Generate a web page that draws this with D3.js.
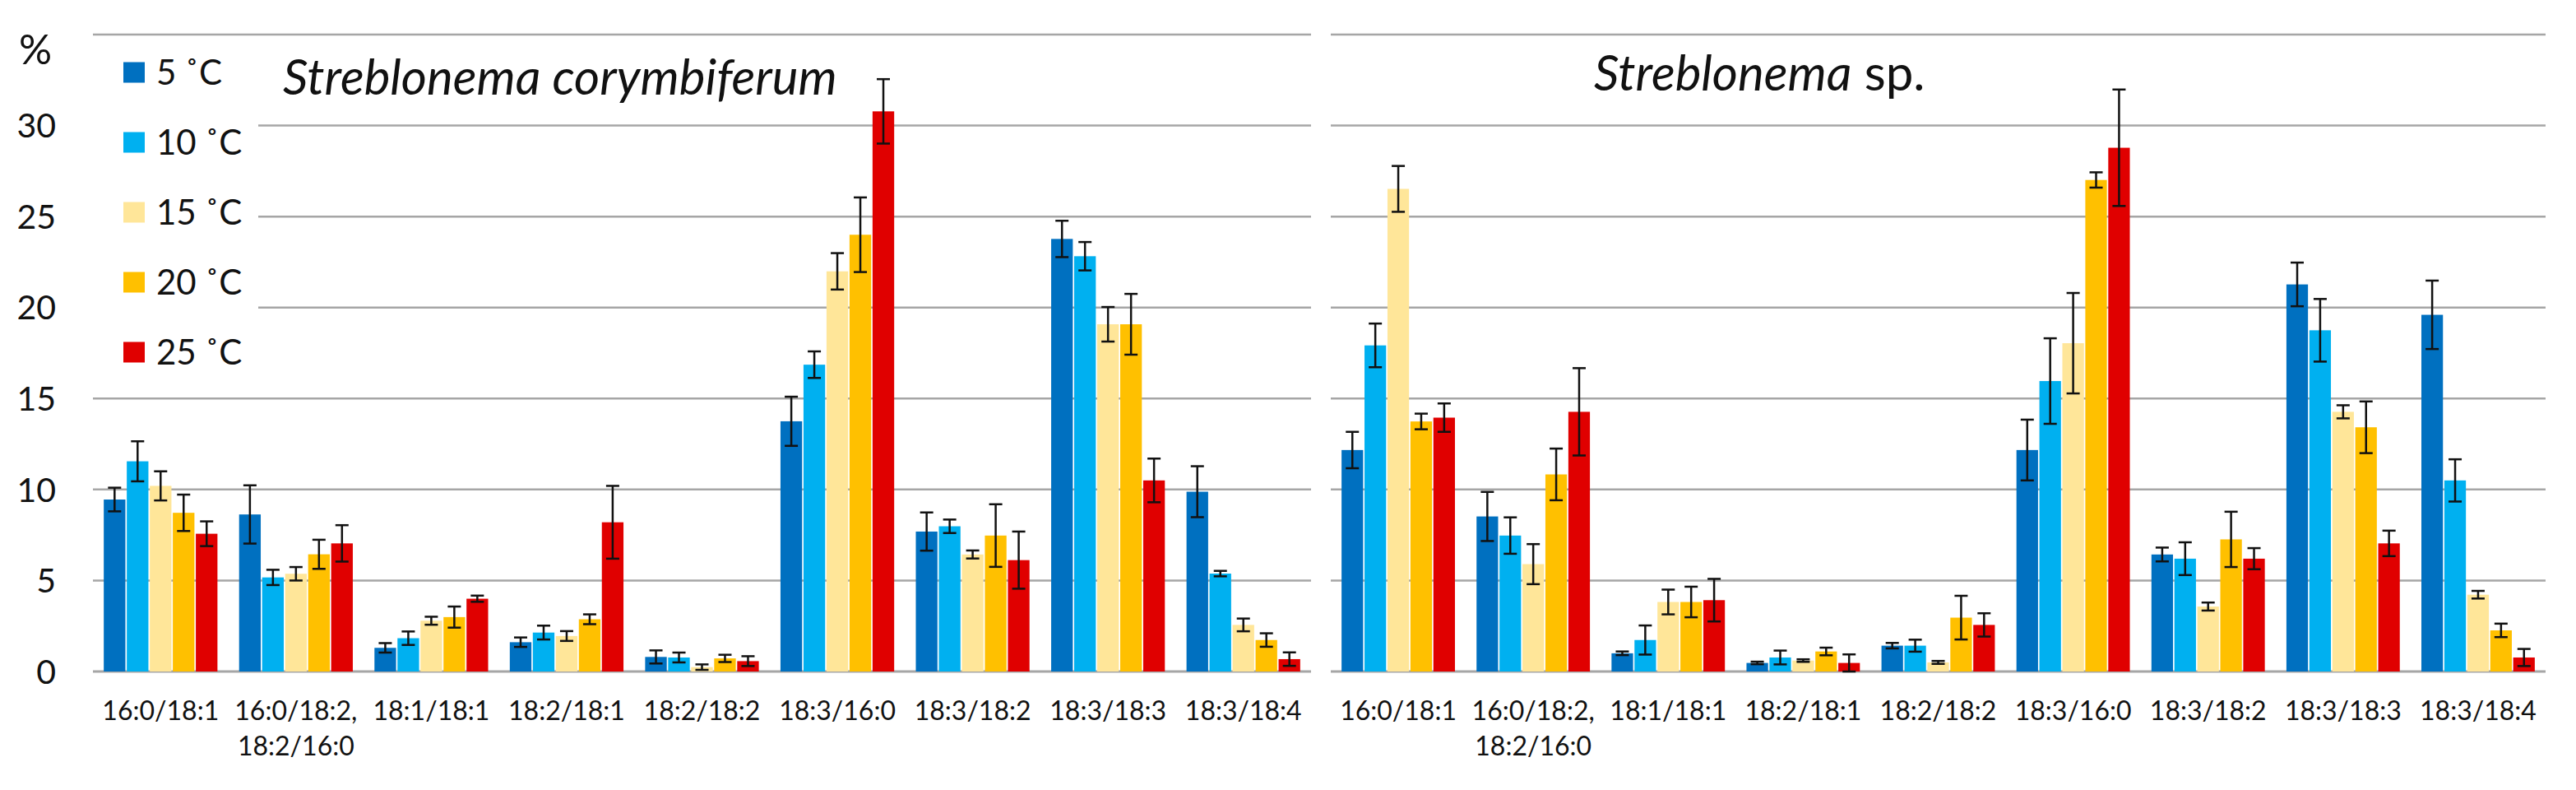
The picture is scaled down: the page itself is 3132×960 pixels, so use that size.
<!DOCTYPE html>
<html>
<head>
<meta charset="utf-8">
<script src="https://cdn.jsdelivr.net/npm/d3@7"></script>
<style>
  body { margin: 0; background: #fff; }
  text { font-family: Lato, "Open Sans", sans-serif; fill: #111; }
</style>
</head>
<body>
<div id="chart"></div>
<script>
const categories = ["16:0/18:1", "16:0/18:2,|18:2/16:0", "18:1/18:1", "18:2/18:1", "18:2/18:2",
    "18:3/16:0", "18:3/18:2", "18:3/18:3", "18:3/18:4"]
const temperatures = ["5 ˚C", "10 ˚C", "15 ˚C", "20 ˚C", "25 ˚C"]
const barColors = ["#0070C0", "#00B0F0", "#FFE699", "#FFC000", "#E00000"]
const yTicks = [0, 5, 10, 15, 20, 25, 30, 35]

// Streblonema corymbiferum, mean % per temperature
const corym5 = [9.45, 8.63, 1.3, 1.61, 0.8, 13.75, 7.69, 23.77, 9.88]
const corym10 = [11.55, 5.17, 1.83, 2.14, 0.77, 16.86, 7.98, 22.82, 5.38]
const corym15 = [10.2, 5.37, 2.79, 1.95, 0.24, 21.99, 6.43, 19.08, 2.56]
const corym20 = [8.72, 6.44, 2.99, 2.87, 0.72, 24.0, 7.47, 19.08, 1.73]
const corym25 = [7.57, 7.04, 4.0, 8.2, 0.57, 30.78, 6.12, 10.5, 0.68]
// error bars
const corymErr5 = [0.65, 1.6, 0.26, 0.26, 0.36, 1.35, 1.05, 1.0, 1.4]
const corymErr10 = [1.1, 0.42, 0.37, 0.38, 0.27, 0.73, 0.37, 0.78, 0.15]
const corymErr15 = [0.8, 0.37, 0.22, 0.27, 0.15, 1.0, 0.22, 0.95, 0.35]
const corymErr20 = [1.0, 0.8, 0.58, 0.27, 0.2, 2.05, 1.72, 1.67, 0.37]
const corymErr25 = [0.68, 1.0, 0.17, 2.0, 0.27, 1.77, 1.57, 1.2, 0.37]

// Streblonema sp.
const sp5 = [12.17, 8.52, 1.0, 0.47, 1.42, 12.17, 6.43, 21.27, 19.6]
const sp10 = [17.92, 7.47, 1.73, 0.77, 1.42, 15.96, 6.2, 18.75, 10.5]
const sp15 = [26.52, 5.9, 3.82, 0.6, 0.5, 18.04, 3.57, 14.27, 4.22]
const sp20 = [13.74, 10.83, 3.82, 1.1, 2.96, 27.01, 7.26, 13.42, 2.26]
const sp25 = [13.95, 14.27, 3.92, 0.47, 2.56, 28.78, 6.2, 7.04, 0.77]
const spErr5 = [1.0, 1.35, 0.1, 0.07, 0.15, 1.67, 0.38, 1.2, 1.88]
const spErr10 = [1.2, 1.0, 0.8, 0.38, 0.33, 2.35, 0.9, 1.72, 1.16]
const spErr15 = [1.26, 1.1, 0.68, 0.07, 0.08, 2.76, 0.22, 0.36, 0.21]
const spErr20 = [0.43, 1.42, 0.84, 0.21, 1.2, 0.42, 1.52, 1.42, 0.37]
const spErr25 = [0.78, 2.4, 1.17, 0.47, 0.64, 3.2, 0.58, 0.7, 0.47]

const width = 3132
const height = 960

const svg = d3.select("#chart")
    .append("svg")
    .attr("width", width)
    .attr("height", height)

const yScale = d3.scaleLinear()
    .domain([0, 35])
    .range([816, 42])

const panels = [
    { left: 113, right: 1594, series: [corym5, corym10, corym15, corym20, corym25],
      errors: [corymErr5, corymErr10, corymErr15, corymErr20, corymErr25] },
    { left: 1618, right: 3095, series: [sp5, sp10, sp15, sp20, sp25],
      errors: [spErr5, spErr10, spErr15, spErr20, spErr25] }
]

panels.forEach(panel => {
    const g = svg.append("g")

    const x0 = d3.scaleBand()
        .domain(categories)
        .range([panel.left, panel.right])
        .paddingInner(0.16)
        .paddingOuter(0.08)

    const x1 = d3.scaleBand()
        .domain(d3.range(temperatures.length))
        .range([0, x0.bandwidth()])
        .paddingInner(0.06)

    // gridlines
    g.append("g")
        .selectAll("line")
        .data(yTicks)
        .enter().append("line")
        .attr("x1", panel.left)
        .attr("x2", panel.right)
        .attr("y1", d => yScale(d))
        .attr("y2", d => yScale(d))
        .attr("stroke", "#a6a6a6")
        .attr("stroke-width", d => d === 0 ? 3 : 2.5)

    const rows = []
    categories.forEach((c, i) => {
        panel.series.forEach((s, k) => {
            rows.push({ cat: c, k: k, value: s[i], err: panel.errors[k][i] })
        })
    })

    g.append("g")
        .selectAll("rect")
        .data(rows)
        .enter().append("rect")
        .attr("x", d => x0(d.cat) + x1(d.k))
        .attr("y", d => yScale(d.value))
        .attr("width", x1.bandwidth())
        .attr("height", d => yScale(0) - yScale(d.value))
        .attr("fill", d => barColors[d.k])

    // error bars
    const eb = g.append("g")
        .attr("stroke", "#111")
        .attr("stroke-width", 2.5)
        .selectAll("g")
        .data(rows)
        .enter().append("g")
        .attr("transform", d => `translate(${x0(d.cat) + x1(d.k) + x1.bandwidth() / 2},0)`)

    eb.append("line")
        .attr("y1", d => yScale(d.value + d.err))
        .attr("y2", d => yScale(Math.max(0, d.value - d.err)))
    eb.append("line")
        .attr("x1", -8).attr("x2", 8)
        .attr("y1", d => yScale(d.value + d.err))
        .attr("y2", d => yScale(d.value + d.err))
    eb.append("line")
        .attr("x1", -8).attr("x2", 8)
        .attr("y1", d => yScale(Math.max(0, d.value - d.err)))
        .attr("y2", d => yScale(Math.max(0, d.value - d.err)))

    // category labels, some on two lines
    const labels = g.append("g")
        .selectAll("text")
        .data(categories)
        .enter().append("text")
        .attr("text-anchor", "middle")
        .style("font-size", "32px")
        .attr("transform", d => `translate(${x0(d) + x0.bandwidth() / 2},875)`)

    labels.selectAll("tspan")
        .data(d => d.split("|"))
        .enter().append("tspan")
        .attr("x", 0)
        .attr("y", (d, i) => i * 43)
        .text(d => d)
})

// y axis labels (left panel only)
svg.append("g")
    .selectAll("text")
    .data(yTicks.filter(d => d < 35))
    .enter().append("text")
    .attr("x", 68)
    .attr("y", d => yScale(d))
    .attr("dy", "0.36em")
    .attr("text-anchor", "end")
    .style("font-size", "41px")
    .text(d => d)

svg.append("text")
    .attr("x", 43)
    .attr("y", 78)
    .attr("text-anchor", "middle")
    .style("font-size", "50px")
    .text("%")

// titles
svg.append("text")
    .attr("x", 344)
    .attr("y", 115)
    .style("font-size", "60px")
    .style("font-style", "italic")
    .text("Streblonema corymbiferum")

const t2 = svg.append("text")
    .attr("x", 1938)
    .attr("y", 110)
    .style("font-size", "60px")
t2.append("tspan").style("font-style", "italic").text("Streblonema")
t2.append("tspan").text(" sp.")

// legend
const legend = svg.append("g")
legend.append("rect")
    .attr("x", 113)
    .attr("y", 56)
    .attr("width", 201)
    .attr("height", 410)
    .attr("fill", "#fff")

const items = legend.selectAll("g.item")
    .data(temperatures)
    .enter().append("g")
    .attr("class", "item")
    .attr("transform", (d, i) => `translate(150,${88 + i * 85})`)

items.append("rect")
    .attr("x", 0)
    .attr("y", -12.5)
    .attr("width", 26)
    .attr("height", 25)
    .attr("fill", (d, i) => barColors[i])

items.append("text")
    .attr("x", 40)
    .attr("dy", "0.36em")
    .style("font-size", "42px")
    .text(d => d)
</script>
</body>
</html>
